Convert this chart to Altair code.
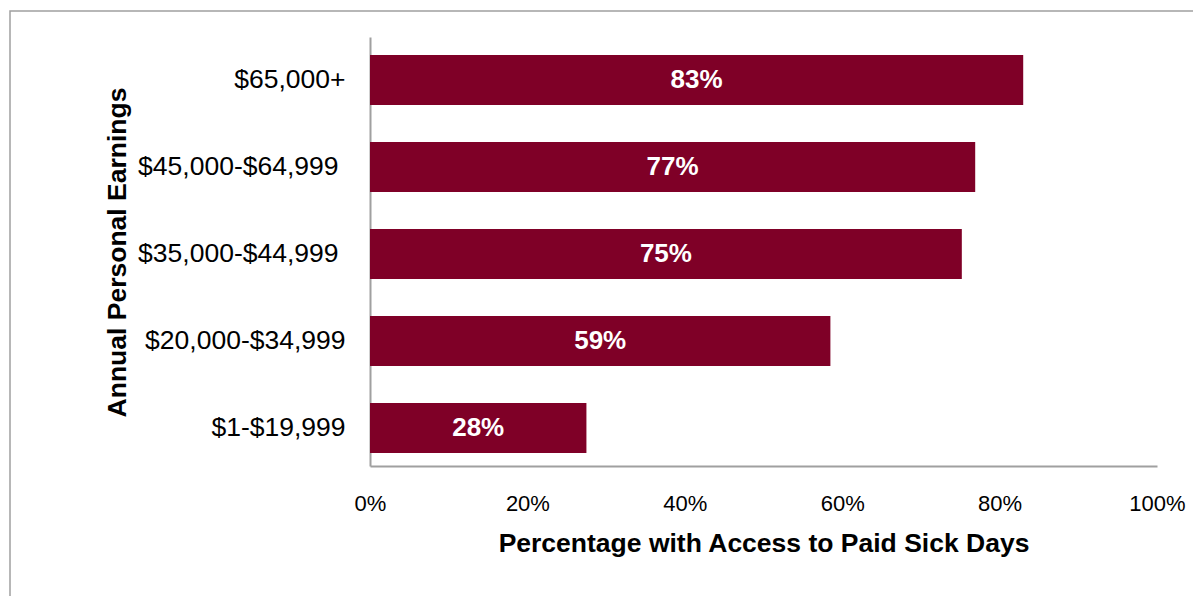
import altair as alt
import pandas as pd

categories = ["$65,000+", "$45,000-$64,999", "$35,000-$44,999", "$20,000-$34,999", "$1-$19,999"]
values = [83.0, 76.9, 75.2, 58.5, 27.5]
labels = ["83%", "77%", "75%", "59%", "28%"]

df = pd.DataFrame({"cat": categories, "val": values, "lab": labels})

FONT = "Liberation Sans"
BAR = "#7F0027"
GRAY = "#A0A0A0"

frame = alt.Chart(alt.Data(values=[{}])).mark_rect(
    filled=False, stroke=GRAY, strokeWidth=1.5, clip=False
).encode(
    x=alt.value(-360), x2=alt.value(1000), y=alt.value(-26), y2=alt.value(800)
)

base = alt.Chart(df)

y_enc = alt.Y(
    "cat:N",
    sort=categories,
    scale=alt.Scale(paddingInner=0.425, paddingOuter=0.178, align=0.58),
    axis=alt.Axis(
        title="Annual Personal Earnings",
        titleFont=FONT, titleFontSize=26.5, titleFontWeight="bold", titleColor="black",
        titleX=-253, titleY=215, titleAlign="center", titleBaseline="middle", titleAngle=270,
        labelFont=FONT, labelFontSize=26.5, labelColor="black",
        labelPadding={"condition": {"test": "indexof(datum.value, '5,000-') >= 0", "value": 32}, "value": 25},
        labelLimit=500,
        ticks=False, tickSize=0, domainColor=GRAY, domainWidth=2, grid=False,
    ),
)

bars = base.mark_bar(color=BAR, size=50).encode(
    x=alt.X(
        "val:Q",
        scale=alt.Scale(domain=[0, 100], nice=False),
        axis=alt.Axis(
            title="Percentage with Access to Paid Sick Days",
            titleFont=FONT, titleFontSize=26.5, titleFontWeight="bold", titleColor="black",
            titlePadding=16,
            labelFont=FONT, labelFontSize=22, labelColor="black", labelPadding=27,
            values=[0, 20, 40, 60, 80, 100],
            labelExpr="datum.value + '%'",
            labelFlush=False, labelOverlap=False,
            ticks=False, tickSize=0, domainColor=GRAY, domainWidth=2, grid=False,
        ),
    ),
    y=y_enc,
)

text = base.transform_calculate(mid="datum.val / 2").mark_text(
    color="white", font=FONT, fontSize=26, fontWeight="bold", baseline="middle", align="center"
).encode(
    x=alt.X("mid:Q"),
    y=alt.Y("cat:N", sort=categories),
    text="lab:N",
)

chart = alt.layer(frame, bars, text).properties(
    width=787,
    height=429,
    background="white",
    autosize=alt.AutoSizeParams(type="none"),
    padding={"left": 362, "top": 29, "right": 36, "bottom": 130},
).configure_view(strokeWidth=0, stroke="transparent")

chart.save("out.html", embed_options={"renderer": "svg", "actions": False})
